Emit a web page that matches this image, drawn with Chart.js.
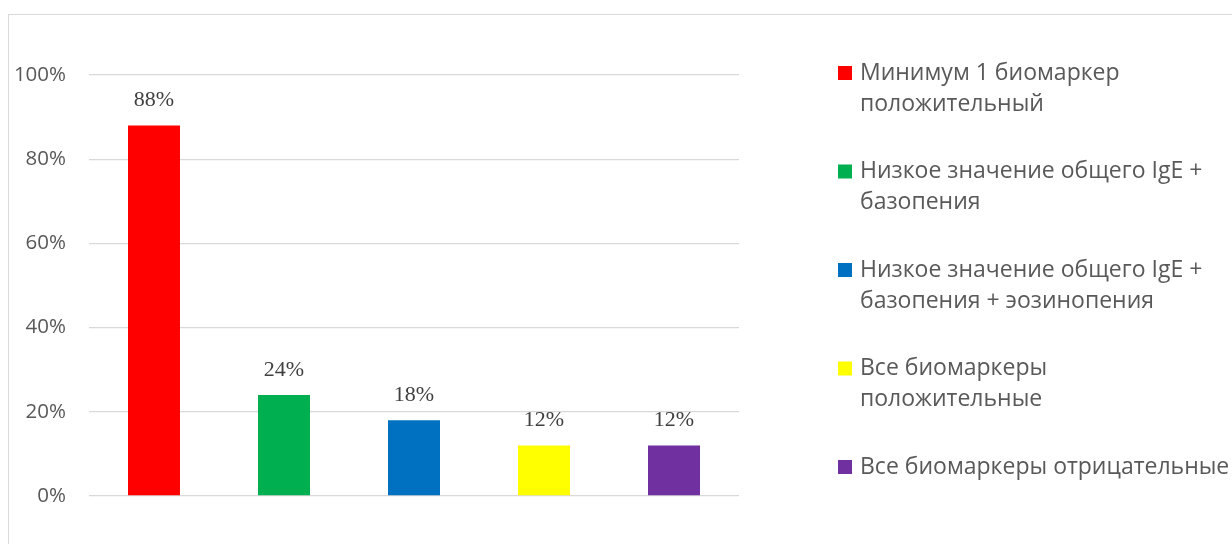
<!DOCTYPE html>
<html lang="ru">
<head>
<meta charset="utf-8">
<script src="https://cdn.jsdelivr.net/npm/chart.js@4.4.1/dist/chart.umd.min.js"></script>
<style>
  html, body { margin: 0; padding: 0; background: #fff; overflow: hidden; }
  #wrap { position: relative; width: 1232px; height: 544px; }
  #frame { position: absolute; left: 8px; top: 14px; width: 1300px; height: 600px; border: 1px solid #d9d9d9; box-sizing: border-box; }
  #chart { position: absolute; left: 0; top: 0; }
</style>
</head>
<body>
<div id="wrap">
  <div id="frame"></div>
  <canvas id="chart" width="1232" height="544"></canvas>
</div>
<script>
// categories (legend entries, split into the lines they wrap to)
const categories = [
    ['Минимум 1 биомаркер', 'положительный'],
    ['Низкое значение общего IgE +', 'базопения'],
    ['Низкое значение общего IgE +', 'базопения + эозинопения'],
    ['Все биомаркеры', 'положительные'],
    ['Все биомаркеры отрицательные']
];
const percentValues = [88, 24, 18, 12, 12];
const barColors = ['#ff0000', '#00b050', '#0070c0', '#ffff00', '#7030a0'];
const yTicks = [0, 20, 40, 60, 80, 100];

// value labels above each bar
const valueLabels = {
    id: 'valueLabels',
    afterDatasetsDraw(chart) {
        const ctx = chart.ctx;
        const meta = chart.getDatasetMeta(0);
        ctx.save();
        ctx.font = '22px "Liberation Serif", serif';
        ctx.fillStyle = '#404040';
        ctx.textAlign = 'center';
        ctx.textBaseline = 'middle';
        meta.data.forEach((bar, i) => {
            ctx.fillText(chart.data.datasets[0].data[i] + '%', bar.x, bar.y - 25);
        });
        ctx.restore();
    }
};

// legend on the right, one square per category with wrapped text
const sideLegend = {
    id: 'sideLegend',
    afterDraw(chart) {
        const ctx = chart.ctx;
        const labels = chart.data.labels;
        const colors = chart.data.datasets[0].backgroundColor;
        ctx.save();
        ctx.font = '23px "Open Sans", sans-serif';
        ctx.textBaseline = 'middle';
        labels.forEach((lines, i) => {
            const y = 73 + i * 98.5;
            ctx.fillStyle = colors[i];
            ctx.fillRect(838, y - 7, 14, 14);
            ctx.fillStyle = '#595959';
            lines.forEach((line, j) => {
                ctx.fillText(line, 860, y + j * 31);
            });
        });
        ctx.restore();
    }
};

const ctx = document.getElementById('chart').getContext('2d');
const chart = new Chart(ctx, {
    type: 'bar',
    data: {
        labels: categories,
        datasets: [{
            data: percentValues,
            backgroundColor: barColors,
            barPercentage: 0.4,
            categoryPercentage: 1
        }]
    },
    plugins: [valueLabels, sideLegend],
    options: {
        responsive: false,
        animation: false,
        layout: { padding: { left: 0, top: 75, right: 493, bottom: 48 } },
        plugins: {
            legend: { display: false },
            tooltip: { enabled: false }
        },
        scales: {
            x: { display: false, offset: true },
            y: {
                min: 0,
                max: 100,
                afterFit(scale) { scale.width = 89; },
                afterBuildTicks(scale) { scale.ticks = yTicks.map(v => ({ value: v })); },
                border: { display: false },
                grid: { color: '#d9d9d9', lineWidth: 1.3, drawTicks: false },
                ticks: {
                    padding: 23,
                    color: '#595959',
                    font: { family: '"Open Sans", sans-serif', size: 20.5 },
                    callback: v => v + '%'
                }
            }
        }
    }
});
</script>
</body>
</html>
